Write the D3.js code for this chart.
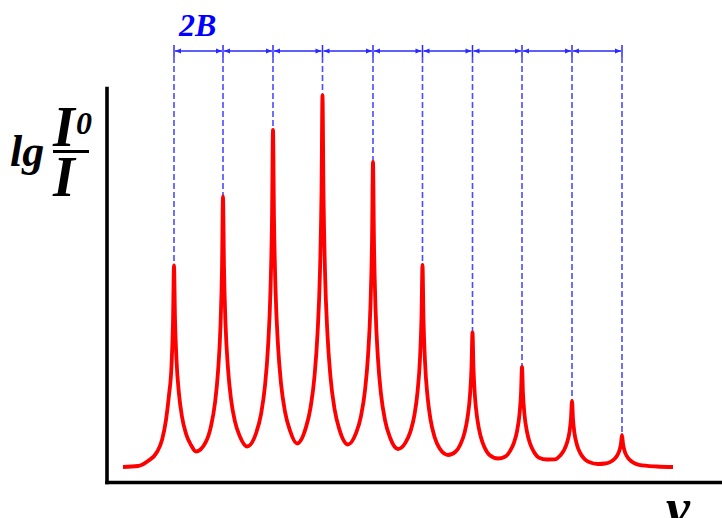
<!DOCTYPE html>
<html>
<head>
<meta charset="utf-8">
<script src="https://cdn.jsdelivr.net/npm/d3@7"></script>
<style>
  html, body { margin: 0; padding: 0; background: #fff; }
  svg { display: block; }
  .lbl { font-family: 'Liberation Serif', 'Times New Roman', serif; font-weight: bold; font-style: italic; }
</style>
</head>
<body>
<svg></svg>
<script>
/* eslint-disable no-undef */

// rotational lines: position (arbitrary units) and peak height of lg(I0/I)
const peakNu = [6.8, 11.7, 16.7, 21.65, 26.7, 31.65, 36.65, 41.6, 46.6, 51.6];
const peakAbs = [21.85, 28.75, 35.4, 38.85, 32.2, 21.9, 15.15, 11.7, 8.3, 4.9];

// spectrum
const curveNu = [
  1.7, 3.2, 4.2,
  5.1, 5.6, 6.0, 6.3, 6.55, 6.7, 6.8, 6.9, 7.05, 7.3, 7.6, 8.0, 8.5, 9.0,
  10.0, 10.5, 10.9, 11.2, 11.45, 11.6, 11.7, 11.8, 11.95, 12.2, 12.5, 12.9, 13.4, 14.1,
  15.0, 15.5, 15.9, 16.2, 16.45, 16.6, 16.7, 16.8, 16.95, 17.2, 17.5, 17.9, 18.4, 19.1,
  19.95, 20.45, 20.85, 21.15, 21.4, 21.55, 21.65, 21.75, 21.9, 22.15, 22.45, 22.85, 23.35, 24.2,
  25.0, 25.5, 25.9, 26.2, 26.45, 26.6, 26.7, 26.8, 26.95, 27.2, 27.5, 27.9, 28.4, 29.2,
  29.95, 30.45, 30.85, 31.15, 31.4, 31.55, 31.65, 31.75, 31.9, 32.15, 32.45, 32.85, 33.35, 34.2,
  34.95, 35.45, 35.85, 36.15, 36.4, 36.55, 36.65, 36.75, 36.9, 37.15, 37.45, 37.85, 38.35, 39.2,
  39.9, 40.4, 40.8, 41.1, 41.35, 41.5, 41.6, 41.7, 41.85, 42.1, 42.4, 42.8, 43.3, 44.1,
  44.9, 45.4, 45.8, 46.1, 46.35, 46.5, 46.6, 46.7, 46.85, 47.1, 47.4, 47.8, 48.3, 49.2,
  49.9, 50.4, 50.8, 51.1, 51.35, 51.5, 51.6, 51.7, 51.85, 52.1, 52.4, 52.8, 53.3,
  55.1, 56.7,
];
const curveAbs = [
  1.7, 1.8, 2.3,
  3.2, 4.4, 6.4, 8.9, 11.8, 16.2, 21.85, 16.55, 12.4, 9.0, 6.73, 5.03, 3.9, 3.25,
  4.24, 5.79, 8.11, 11.21, 15.85, 21.53, 28.75, 21.67, 16.1, 11.55, 8.51, 6.23, 4.72, 3.75,
  5.05, 6.96, 9.84, 13.67, 19.43, 26.45, 35.4, 26.54, 19.58, 13.88, 10.08, 7.23, 5.33, 4.05,
  5.51, 7.61, 10.77, 14.98, 21.3, 29.02, 38.85, 28.99, 21.25, 14.91, 10.69, 7.52, 5.41, 3.95,
  5.08, 6.79, 9.36, 12.79, 17.93, 24.21, 32.2, 24.08, 17.7, 12.48, 9.0, 6.39, 4.65, 3.5,
  4.14, 5.26, 6.94, 9.18, 12.55, 16.66, 21.9, 16.5, 12.25, 8.78, 6.46, 4.72, 3.57, 2.9,
  3.23, 3.98, 5.11, 6.62, 8.88, 11.64, 15.15, 11.54, 8.7, 6.38, 4.83, 3.67, 2.9, 2.55,
  2.72, 3.29, 4.14, 5.27, 6.98, 9.05, 11.7, 9.03, 6.93, 5.21, 4.06, 3.2, 2.63, 2.45,
  2.46, 2.83, 3.38, 4.12, 5.23, 6.58, 8.3, 6.49, 5.08, 3.91, 3.14, 2.56, 2.2, 2.0,
  2.05, 2.19, 2.46, 2.83, 3.38, 4.05, 4.9, 4.02, 3.33, 2.76, 2.38, 2.1, 1.91,
  1.75, 1.7,
];

const spacingLabel = '2B';

const draw = () => {
  const width = 722;
  const height = 518;
  const blue = '#2a2aff';

  const svg = d3.select('svg')
    .attr('width', width)
    .attr('height', height);

  const x = d3.scaleLinear().domain([0.05, 61.6]).range([106.5, 722]);
  const y = d3.scaleLinear().domain([0.2, 39.6]).range([482, 88]);

  // arrow heads
  svg.append('defs')
    .append('marker')
    .attr('id', 'arr')
    .attr('markerUnits', 'userSpaceOnUse')
    .attr('markerWidth', 8)
    .attr('markerHeight', 8)
    .attr('viewBox', '0 -4 8 8')
    .attr('refX', 7)
    .attr('refY', 0)
    .attr('orient', 'auto-start-reverse')
    .append('path')
    .attr('d', 'M1,-2.5L7,0L1,2.5Z')
    .attr('fill', blue);

  const arrowY = 51;
  const peaks = peakNu.map((d, i) => ({ nu: d, a: peakAbs[i] }));

  // dashed drop lines
  svg.selectAll('line.drop')
    .data(peaks)
    .enter()
    .append('line')
    .attr('class', 'drop')
    .attr('x1', d => x(d.nu))
    .attr('x2', d => x(d.nu))
    .attr('y1', arrowY + 6)
    .attr('y2', d => y(d.a))
    .attr('stroke', '#4a4aff')
    .attr('stroke-width', 1.6)
    .attr('stroke-dasharray', '6,3');

  // tick marks on the spacing bar
  svg.selectAll('line.tk')
    .data(peaks)
    .enter()
    .append('line')
    .attr('class', 'tk')
    .attr('x1', d => x(d.nu))
    .attr('x2', d => x(d.nu))
    .attr('y1', arrowY - 6)
    .attr('y2', arrowY + 6)
    .attr('stroke', blue)
    .attr('stroke-width', 1.5);

  // spacing arrows
  svg.selectAll('line.sp')
    .data(d3.pairs(peakNu))
    .enter()
    .append('line')
    .attr('class', 'sp')
    .attr('x1', d => x(d[0]) + 1)
    .attr('x2', d => x(d[1]) - 1)
    .attr('y1', arrowY)
    .attr('y2', arrowY)
    .attr('stroke', blue)
    .attr('stroke-width', 1.5)
    .attr('marker-start', 'url(#arr)')
    .attr('marker-end', 'url(#arr)');

  svg.append('text')
    .attr('class', 'lbl')
    .attr('x', 179)
    .attr('y', 36)
    .attr('font-size', 32)
    .attr('fill', '#0000ff')
    .text(spacingLabel);

  // spectrum
  const line = d3.line()
    .x(d => x(d[0]))
    .y(d => y(d[1]))
    .curve(d3.curveMonotoneX);

  svg.append('path')
    .datum(d3.zip(curveNu, curveAbs))
    .attr('d', line)
    .attr('fill', 'none')
    .attr('stroke', '#ff0000')
    .attr('stroke-width', 3.8)
    .attr('stroke-linejoin', 'round');

  // axes, no ticks
  const xAxis = svg.append('g')
    .attr('transform', `translate(0,${y.range()[0]})`)
    .call(d3.axisBottom(x).tickValues([]).tickSizeOuter(0));
  const yAxis = svg.append('g')
    .attr('transform', `translate(${x.range()[0]},0)`)
    .call(d3.axisLeft(y).tickValues([]).tickSizeOuter(0));
  [xAxis, yAxis].forEach(g => g.select('.domain')
    .attr('stroke', '#000')
    .attr('stroke-width', 3.6)
    .attr('stroke-linecap', 'square'));

  // axis titles
  const yl = svg.append('g').attr('class', 'lbl');
  yl.append('text').attr('x', 10).attr('y', 166).attr('font-size', 44).text('lg');
  yl.append('text').attr('x', 53).attr('y', 146).attr('font-size', 56).text('I');
  yl.append('text').attr('x', 76).attr('y', 134).attr('font-size', 32).text('0');
  yl.append('line')
    .attr('x1', 53).attr('x2', 89)
    .attr('y1', 151.5).attr('y2', 151.5)
    .attr('stroke', '#000').attr('stroke-width', 3);
  yl.append('text').attr('x', 53).attr('y', 196).attr('font-size', 56).text('I');

  svg.append('text')
    .attr('class', 'lbl')
    .attr('x', 666)
    .attr('y', 526)
    .attr('font-size', 54)
    .text('ν');
};
draw();
</script>
</body>
</html>
